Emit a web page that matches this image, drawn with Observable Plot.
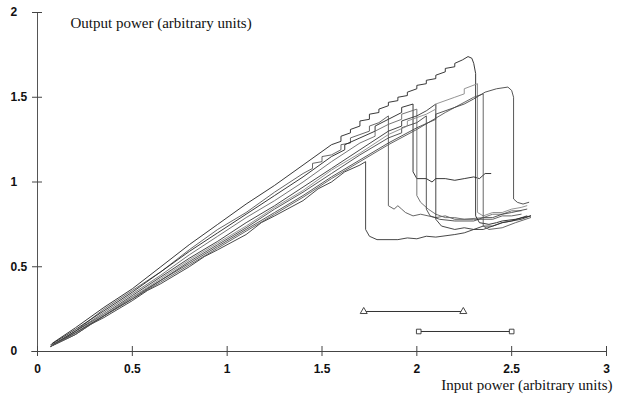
<!DOCTYPE html>
<html>
<head>
<meta charset="utf-8">
<script src="https://cdn.jsdelivr.net/npm/d3@7"></script>
<script src="https://cdn.jsdelivr.net/npm/@observablehq/plot@0.6"></script>
<style>
  html, body { margin: 0; padding: 0; background: #fff; overflow: hidden; }
</style>
</head>
<body>
<div id="chart"></div>
<script>
const xTicks = [0, 0.5, 1, 1.5, 2, 2.5, 3];
const yTicks = [0, 0.5, 1, 1.5, 2];
const xTickLabels = ["0", "0.5", "1", "1.5", "2", "2.5", "3"];
const yTickLabels = ["0", "0.5", "1", "1.5", "2"];
const yTitle = "Output power (arbitrary units)";
const xTitle = "Input power (arbitrary units)";

const curve1 = [[0.07,0.03],[0.2,0.10],[0.28,0.16],[0.35,0.20],[0.5,0.30],[0.58,0.36],[0.65,0.40],[0.8,0.50],[0.88,0.56],[0.95,0.60],[1.1,0.69],[1.18,0.76],[1.25,0.80],[1.4,0.89],[1.48,0.96],[1.55,1.00],[1.62,1.06],[1.7,1.10],[1.73,1.12],[1.73,0.72],[1.75,0.68],[1.79,0.66],[1.9,0.66],[1.95,0.67],[2.0,0.665],[2.05,0.68],[2.1,0.675],[2.2,0.69],[2.25,0.70],[2.3,0.72],[2.35,0.72],[2.4,0.74],[2.45,0.76],[2.5,0.77],[2.55,0.78],[2.6,0.80]];
const curve2 = [[0.08,0.04],[0.2,0.12],[0.35,0.25],[0.5,0.36],[0.65,0.47],[0.8,0.60],[0.95,0.72],[1.1,0.82],[1.25,0.94],[1.4,1.05],[1.45,1.08],[1.45,1.11],[1.5,1.12],[1.5,1.15],[1.55,1.16],[1.6,1.19],[1.6,1.22],[1.65,1.23],[1.65,1.26],[1.7,1.28],[1.75,1.30],[1.75,1.33],[1.8,1.35],[1.85,1.39],[1.85,0.86],[1.88,0.84],[1.9,0.86],[1.92,0.84],[1.94,0.82],[1.98,0.80],[2.02,0.81],[2.1,0.79],[2.15,0.80],[2.2,0.78],[2.3,0.78],[2.4,0.78],[2.45,0.80],[2.5,0.80],[2.55,0.81]];
const curve3 = [[0.07,0.04],[0.2,0.13],[0.35,0.24],[0.5,0.35],[0.65,0.47],[0.8,0.59],[0.95,0.70],[1.1,0.81],[1.25,0.92],[1.4,1.03],[1.55,1.15],[1.62,1.19],[1.62,1.22],[1.7,1.26],[1.78,1.30],[1.78,1.33],[1.85,1.37],[1.92,1.41],[1.92,1.44],[1.98,1.46],[1.98,1.06],[2.0,1.02],[2.05,1.02],[2.08,1.00],[2.1,1.02],[2.15,1.02],[2.2,1.01],[2.25,1.02],[2.3,1.03],[2.33,1.02],[2.36,1.05],[2.39,1.05]];
const curve4 = [[0.08,0.04],[0.2,0.12],[0.35,0.23],[0.5,0.34],[0.65,0.45],[0.8,0.57],[0.95,0.68],[1.1,0.79],[1.25,0.89],[1.4,1.00],[1.55,1.12],[1.7,1.23],[1.78,1.27],[1.78,1.30],[1.85,1.34],[1.92,1.37],[1.92,1.40],[2.0,1.43],[2.0,0.92],[2.02,0.88],[2.06,0.84],[2.1,0.81],[2.15,0.79],[2.2,0.79],[2.25,0.78],[2.35,0.79],[2.4,0.81],[2.45,0.81],[2.5,0.83],[2.55,0.83]];
const curve5 = [[0.07,0.03],[0.2,0.11],[0.35,0.21],[0.5,0.32],[0.65,0.42],[0.8,0.53],[0.95,0.63],[1.1,0.73],[1.25,0.84],[1.4,0.94],[1.55,1.05],[1.7,1.16],[1.85,1.26],[1.92,1.29],[1.92,1.32],[2.0,1.35],[2.05,1.39],[2.05,0.84],[2.07,0.80],[2.12,0.78],[2.2,0.77],[2.3,0.77],[2.35,0.79],[2.4,0.79],[2.45,0.81],[2.5,0.82],[2.58,0.84]];
const curve6 = [[0.07,0.03],[0.2,0.12],[0.35,0.22],[0.5,0.33],[0.65,0.44],[0.8,0.55],[0.95,0.65],[1.1,0.76],[1.25,0.86],[1.4,0.97],[1.55,1.08],[1.7,1.19],[1.85,1.30],[1.92,1.33],[1.92,1.36],[2.0,1.39],[2.05,1.42],[2.1,1.46],[2.1,0.78],[2.13,0.74],[2.2,0.72],[2.25,0.73],[2.3,0.72],[2.35,0.74],[2.4,0.74],[2.45,0.76],[2.5,0.77],[2.58,0.80]];
const curve7 = [[0.08,0.05],[0.2,0.14],[0.35,0.26],[0.5,0.37],[0.65,0.50],[0.8,0.63],[0.95,0.75],[1.1,0.87],[1.25,0.98],[1.4,1.10],[1.5,1.18],[1.55,1.22],[1.6,1.24],[1.6,1.27],[1.65,1.29],[1.65,1.31],[1.7,1.33],[1.7,1.36],[1.75,1.37],[1.75,1.40],[1.8,1.41],[1.8,1.43],[1.85,1.45],[1.85,1.47],[1.9,1.48],[1.9,1.50],[1.95,1.51],[1.95,1.53],[2.0,1.55],[2.0,1.57],[2.05,1.58],[2.05,1.60],[2.1,1.61],[2.1,1.63],[2.15,1.65],[2.15,1.67],[2.2,1.68],[2.2,1.70],[2.24,1.72],[2.27,1.74],[2.29,1.73],[2.30,1.70],[2.31,1.64],[2.31,0.80],[2.33,0.76],[2.38,0.75],[2.42,0.76],[2.45,0.77],[2.52,0.78],[2.6,0.80]];
const curve8 = [[0.07,0.03],[0.2,0.11],[0.35,0.22],[0.5,0.32],[0.65,0.43],[0.8,0.54],[0.95,0.64],[1.1,0.74],[1.25,0.85],[1.4,0.95],[1.55,1.07],[1.7,1.17],[1.85,1.28],[1.95,1.33],[1.95,1.36],[2.05,1.40],[2.1,1.43],[2.1,1.46],[2.2,1.50],[2.25,1.52],[2.25,1.55],[2.32,1.58],[2.32,0.82],[2.35,0.80],[2.4,0.82],[2.45,0.82],[2.5,0.84],[2.55,0.85],[2.58,0.86]];
const curve9 = [[0.07,0.03],[0.2,0.10],[0.35,0.21],[0.5,0.31],[0.65,0.41],[0.8,0.51],[0.95,0.61],[1.1,0.71],[1.25,0.81],[1.4,0.91],[1.55,1.02],[1.7,1.12],[1.85,1.22],[2.0,1.31],[2.15,1.41],[2.3,1.50],[2.35,1.52],[2.35,0.74],[2.38,0.72],[2.45,0.73],[2.52,0.76],[2.6,0.79]];
const curve10 = [[0.08,0.04],[0.2,0.11],[0.35,0.21],[0.5,0.31],[0.65,0.42],[0.8,0.52],[0.95,0.62],[1.1,0.72],[1.25,0.82],[1.4,0.92],[1.55,1.03],[1.7,1.13],[1.85,1.23],[2.0,1.32],[2.1,1.37],[2.1,1.40],[2.2,1.44],[2.25,1.46],[2.3,1.49],[2.36,1.53],[2.42,1.55],[2.48,1.56],[2.50,1.54],[2.51,1.50],[2.51,0.90],[2.53,0.88],[2.56,0.87],[2.59,0.88]];

const triRange = [1.72, 2.245];
const triLevel = 0.236;
const sqRange = [2.01, 2.50];
const sqLevel = 0.118;

const curves = [curve1, curve2, curve3, curve4, curve5, curve6, curve7, curve8, curve9, curve10];
const strokes = ["#333", "#555", "#222", "#666", "#444", "#333", "#222", "#888", "#555", "#444"];

const lineMarks = curves.map((c, i) =>
  Plot.line(c.map(([x, y]) => ({x, y})), {x: "x", y: "y", stroke: strokes[i], strokeWidth: 0.9})
);

const barData = [
  {x1: triRange[0], x2: triRange[1], y: triLevel, sym: "triangle"},
  {x1: sqRange[0], x2: sqRange[1], y: sqLevel, sym: "square"}
];
const barEnds = barData.flatMap(d => [{x: d.x1, y: d.y, sym: d.sym}, {x: d.x2, y: d.y, sym: d.sym}]);

const chart = Plot.plot({
  width: 617,
  height: 404,
  marginLeft: 37,
  marginRight: 11,
  marginTop: 12,
  marginBottom: 53,
  x: {domain: [0, 3], axis: null},
  y: {domain: [0, 2], axis: null},
  symbol: {domain: ["triangle", "square"], range: ["triangle", "square"]},
  style: {fontFamily: "Liberation Sans, Arial, sans-serif", background: "#fff", overflow: "visible"},
  marks: [
    Plot.ruleY([0], {x1: -0.03, x2: 3, stroke: "#444", strokeWidth: 1}),
    Plot.ruleX([0], {y1: 0, y2: 2, stroke: "#555", strokeWidth: 1}),
    Plot.ruleX(xTicks, {x: d => d, y1: 0, y2: 0, insetTop: -5, insetBottom: -5, stroke: "#444"}),
    Plot.ruleY(yTicks, {y: d => d, x1: 0, x2: 0, insetLeft: -5, insetRight: -5, stroke: "#444"}),
    Plot.text(xTicks, {x: d => d, y: 0, dy: 18, text: (d, i) => xTickLabels[i], fontSize: 12, fontWeight: "bold", fill: "#111", lineAnchor: "middle"}),
    Plot.text(yTicks, {x: 0, y: d => d, dx: -27, text: (d, i) => yTickLabels[i], fontSize: 12, fontWeight: "bold", fill: "#111", textAnchor: "start", lineAnchor: "middle"}),
    ...lineMarks,
    Plot.ruleY(barData, {x1: "x1", x2: "x2", y: "y", stroke: "#333", strokeWidth: 1}),
    Plot.dot(barEnds, {x: "x", y: "y", symbol: "sym", r: 2.6, stroke: "#333", fill: "#fff", strokeWidth: 0.9}),
    Plot.text([yTitle], {frameAnchor: "top-left", dx: 33, dy: 11, text: d => d, fontFamily: "Liberation Serif, Times New Roman, serif", fontSize: 15, fill: "#111", textAnchor: "start", lineAnchor: "middle"}),
    Plot.text([xTitle], {frameAnchor: "bottom-right", dx: 6, dy: 34, text: d => d, fontFamily: "Liberation Serif, Times New Roman, serif", fontSize: 15, fill: "#111", textAnchor: "end", lineAnchor: "middle"})
  ]
});
document.getElementById("chart").appendChild(chart);
</script>
</body>
</html>
